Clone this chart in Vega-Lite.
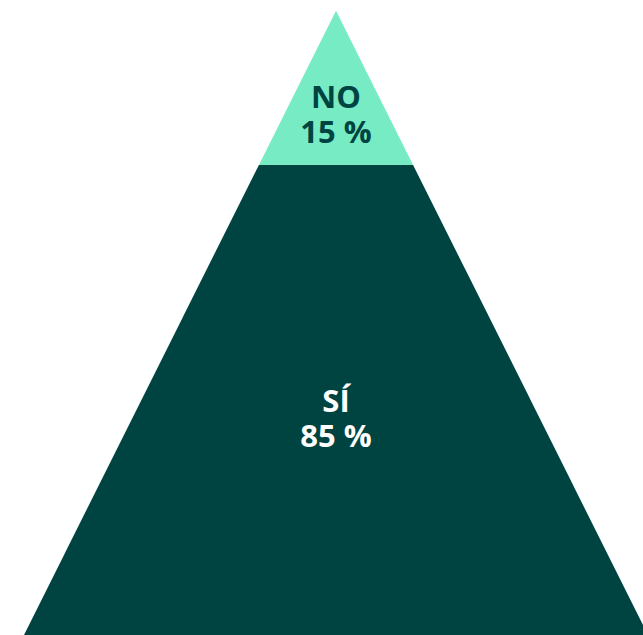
{
  "$schema": "https://vega.github.io/schema/vega-lite/v6.json",
  "width": 643,
  "height": 635,
  "autosize": {"type": "fit", "contains": "padding"},
  "padding": 0,
  "background": "white",
  "config": {"view": {"stroke": null}},
  "datasets": {
    "shape": [
      {"part": "SÍ", "u": -1, "v": 0, "v2": 0},
      {"part": "SÍ", "u": -0.247, "v": 0.753, "v2": 0},
      {"part": "SÍ", "u": 0.247, "v": 0.753, "v2": 0},
      {"part": "SÍ", "u": 1, "v": 0, "v2": 0},
      {"part": "NO", "u": -0.247, "v": 0.753, "v2": 0.753},
      {"part": "NO", "u": 0, "v": 1, "v2": 0.753},
      {"part": "NO", "u": 0.247, "v": 0.753, "v2": 0.753}
    ],
    "labels": [
      {"part": "NO", "label": ["NO", "15 %"], "u": 0, "v": 0.8441},
      {"part": "SÍ", "label": ["SÍ", "85 %"], "u": 0, "v": 0.3572}
    ]
  },
  "layer": [
    {
      "data": {"name": "shape"},
      "mark": {"type": "area", "clip": true, "interpolate": "linear"},
      "encoding": {
        "x": {"field": "u", "type": "quantitative", "scale": {"domain": [-1.0769, 0.984], "nice": false, "zero": false}, "axis": null},
        "y": {"field": "v", "type": "quantitative", "scale": {"domain": [0, 1.0171], "nice": false, "zero": false}, "axis": null},
        "y2": {"field": "v2"},
        "color": {"field": "part", "type": "nominal", "scale": {"domain": ["NO", "SÍ"], "range": ["#77EBC4", "#004441"]}, "legend": null}
      }
    },
    {
      "data": {"name": "labels"},
      "mark": {"type": "text", "font": "Open Sans", "fontWeight": "bold", "fontSize": 31, "lineHeight": 35, "align": "center", "baseline": "alphabetic"},
      "encoding": {
        "x": {"field": "u", "type": "quantitative"},
        "y": {"field": "v", "type": "quantitative"},
        "text": {"field": "label"},
        "color": {"field": "part", "type": "nominal", "scale": {"domain": ["NO", "SÍ"], "range": ["#004441", "#FFFFFF"]}, "legend": null}
      }
    }
  ],
  "resolve": {"scale": {"color": "independent"}}
}
